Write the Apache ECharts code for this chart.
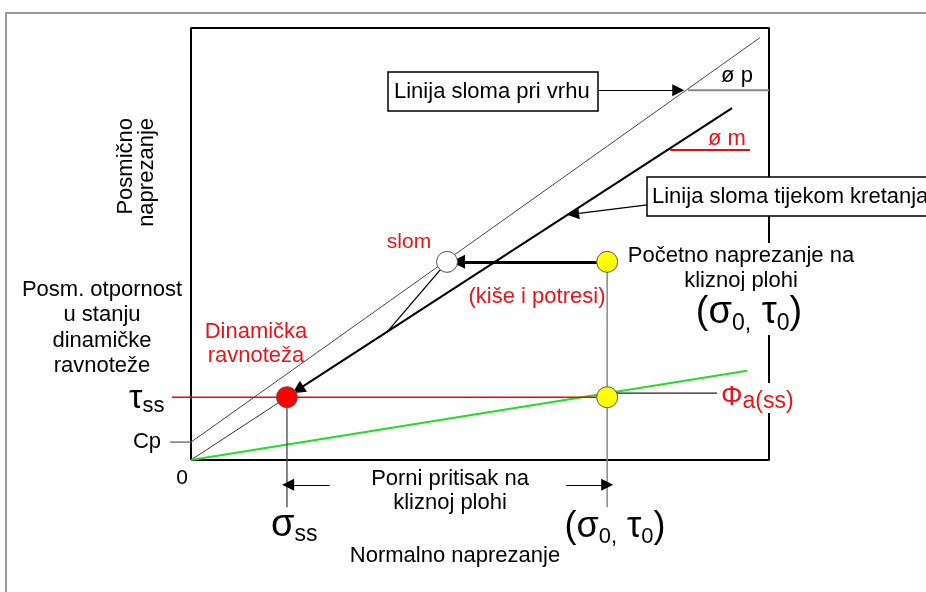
<!DOCTYPE html>
<html lang="hr">
<head>
<meta charset="UTF-8">
<title>Posmično naprezanje</title>
<script src="https://cdn.jsdelivr.net/npm/echarts@6/dist/echarts.min.js"></script>
<style>
    html, body {margin: 0; padding: 0; background: #fff;}
    #main {width: 926px; height: 592px;}
</style>
</head>
<body>
<div id="main"></div>
<script>
    // jedinice: okvir dijagrama je 0..100 po x i 0..75 po y
    var plotBox = [[0, 0], [100, 0], [100, 75], [0, 75], [0, 0]];
    var peakLine = [[0, 3.1], [98.4, 73.3]];          // linija sloma pri vrhu
    var residualLine = [[0, 0], [16.6, 10.9]];        // donji dio linije tijekom kretanja
    var moveArrow = [[93.6, 61.1], [18.5, 12.2]];     // linija sloma tijekom kretanja
    var slomLink = [[44.3, 34.4], [33.9, 22.2]];
    var greenLine = [[0, 0], [96.2, 15.5]];           // Φa(ss)
    var phiPLine = [[86.0, 64.2], [100, 64.2]];
    var phiMLine = [[82.9, 53.8], [96.7, 53.8]];
    var tauSSLine = [[-3.3, 10.9], [72.0, 10.9]];
    var cpTick = [[-3.6, 3.1], [0, 3.1]];
    var phiALeader = [[73.7, 11.6], [91.0, 11.6]];
    var dropSS = [[16.6, 10.9], [16.6, -8.2]];
    var drop0 = [[72.0, 34.4], [72.0, -8.2]];

    var arrowsThin = [
        [[70.4, 64.2], [84.3, 64.2]],
        [[78.9, 44.3], [66.1, 42.7]],
        [[24.0, -4.3], [16.8, -4.3]],
        [[64.9, -4.3], [72.0, -4.3]]
    ];
    var arrowSlom = [[70.2, 34.4], [46.2, 34.4]];

    var dots = [[16.6, 10.9], [44.3, 34.4], [72.0, 34.4], [72.0, 10.9]];
    var dotColors = ['#ff0000', '#ffffff', '#ffff00', '#ffff00'];

    var font = 'Liberation Sans, Arial, sans-serif';
    var red = '#e8141b';

    function seg(data, color, width, z) {
        return {
            type: 'line', data: data, symbol: 'none', silent: true, z: z || 2,
            lineStyle: {color: color, width: width}
        };
    }

    function txt(x, y, text, size, color, align, extra) {
        var st = {
            text: text, fill: color || '#000', align: align || 'center', verticalAlign: 'middle',
            font: size + 'px ' + font, lineHeight: size + 4
        };
        for (var k in extra) st[k] = extra[k];
        return {type: 'text', x: x, y: y, z: 20, style: st};
    }

    var myChart = echarts.init(document.getElementById('main'));
    var option = {
        animation: false,
        grid: {left: 0, right: 0, top: 0, bottom: 0},
        xAxis: {type: 'value', min: -33.045, max: 127.16, show: false},
        yAxis: {type: 'value', min: -22.92, max: 79.86, show: false},
        series: [
            seg(plotBox, '#000', 2),
            seg(peakLine, '#444', 1),
            seg(residualLine, '#333', 1),
            seg(slomLink, '#000', 1.3),
            seg(greenLine, '#22dd22', 2),
            seg(phiPLine, '#888', 2),
            seg(phiMLine, '#dd1111', 2),
            seg(tauSSLine, '#ff0000', 1.5),
            seg(cpTick, '#777', 1.5),
            seg(phiALeader, '#222', 1.3),
            seg(dropSS, '#444', 1.3),
            seg(drop0, '#888', 1.5),
            {
                type: 'lines', coordinateSystem: 'cartesian2d', silent: true, z: 3,
                symbol: ['none', 'triangle'], symbolSize: 12,
                lineStyle: {color: '#000', width: 1.2, opacity: 1},
                data: arrowsThin.map(function (c) { return {coords: c}; })
            },
            {
                type: 'lines', coordinateSystem: 'cartesian2d', silent: true, z: 3,
                symbol: ['none', 'triangle'], symbolSize: 13,
                lineStyle: {color: '#000', width: 2, opacity: 1},
                data: [{coords: moveArrow}]
            },
            {
                type: 'lines', coordinateSystem: 'cartesian2d', silent: true, z: 3,
                symbol: ['none', 'triangle'], symbolSize: 14,
                lineStyle: {color: '#000', width: 3, opacity: 1},
                data: [{coords: arrowSlom}]
            },
            {
                type: 'scatter', silent: true, z: 5, symbolSize: 21,
                data: dots.map(function (d, i) {
                    return {value: d, itemStyle: {color: dotColors[i], borderColor: '#555', borderWidth: 1, opacity: 1}};
                })
            }
        ],
        graphic: [
            {type: 'polyline', z: 1, shape: {points: [[6, 592], [6, 13], [926, 13]]},
                style: {stroke: '#999', lineWidth: 2, fill: null}},
            {type: 'rect', z: 15, shape: {x: 388, y: 72, width: 210, height: 39},
                style: {fill: '#fff', stroke: '#000', lineWidth: 1.5}},
            txt(394, 92, 'Linija sloma pri vrhu', 22, '#000', 'left'),
            {type: 'rect', z: 15, shape: {x: 647, y: 177, width: 300, height: 39},
                style: {fill: '#fff', stroke: '#000', lineWidth: 1.5}},
            txt(652, 197, 'Linija sloma tijekom kretanja', 22, '#000', 'left'),
            txt(737, 76, 'ø p', 22, '#000'),
            txt(727, 139, 'ø m', 22, red),
            {type: 'text', x: 115, y: 118, rotation: Math.PI / 2, z: 20,
                style: {text: 'Posmično\nnaprezanje', fill: '#000', align: 'right', verticalAlign: 'top',
                    font: '22px ' + font, lineHeight: 21}},
            txt(102, 328, 'Posm. otpornost\nu stanju\ndinamičke\nravnoteže', 22, '#000', 'center', {lineHeight: 25.5}),
            txt(256, 344, 'Dinamička\nravnoteža', 22, red, 'center', {lineHeight: 24}),
            txt(409, 242, 'slom', 21, red),
            txt(537, 297, '(kiše i potresi)', 22, red),
            txt(741, 268, 'Početno naprezanje na\nkliznoj plohi', 22, '#000', 'center',
                {lineHeight: 25, backgroundColor: '#fff'}),
            {type: 'text', x: 749, y: 313, z: 20,
                style: {text: '{b|(σ}{s|0,}{b| τ}{s|0}{b|)}', align: 'center', verticalAlign: 'middle',
                    backgroundColor: '#fff', padding: [0, 2],
                    rich: {
                        b: {font: '38px ' + font, fill: '#000', lineHeight: 44},
                        s: {font: '23px ' + font, fill: '#000', verticalAlign: 'bottom', lineHeight: 32}
                    }}},
            {type: 'text', x: 721, y: 398, z: 20,
                style: {text: '{b|Φ}{s|a(ss)}', align: 'left', verticalAlign: 'middle',
                    backgroundColor: '#fff',
                    rich: {
                        b: {font: '27px ' + font, fill: red, lineHeight: 30},
                        s: {font: '23px ' + font, fill: red, verticalAlign: 'bottom', lineHeight: 27}
                    }}},
            {type: 'text', x: 129, y: 399, z: 20,
                style: {text: '{b|τ}{s|ss}', align: 'left', verticalAlign: 'middle',
                    rich: {
                        b: {font: '34px ' + font, fill: '#000', lineHeight: 36},
                        s: {font: '22px ' + font, fill: '#000', verticalAlign: 'bottom', lineHeight: 28}
                    }}},
            txt(147, 442, 'Cp', 22),
            txt(182, 478, '0', 21),
            txt(450, 491, 'Porni pritisak na\nkliznoj plohi', 22, '#000', 'center', {lineHeight: 24}),
            {type: 'text', x: 271, y: 526, z: 20,
                style: {text: '{b|σ}{s|ss}', align: 'left', verticalAlign: 'middle',
                    rich: {
                        b: {font: '38px ' + font, fill: '#000', lineHeight: 40},
                        s: {font: '23px ' + font, fill: '#000', verticalAlign: 'bottom', lineHeight: 30}
                    }}},
            {type: 'text', x: 615, y: 527, z: 20,
                style: {text: '{b|(σ}{s|0,}{b| τ}{s|0}{b|)}', align: 'center', verticalAlign: 'middle',
                    rich: {
                        b: {font: '36px ' + font, fill: '#000', lineHeight: 42},
                        s: {font: '22px ' + font, fill: '#000', verticalAlign: 'bottom', lineHeight: 31}
                    }}},
            txt(455, 556, 'Normalno naprezanje', 22)
        ]
    };
    myChart.setOption(option);
</script>
</body>
</html>
